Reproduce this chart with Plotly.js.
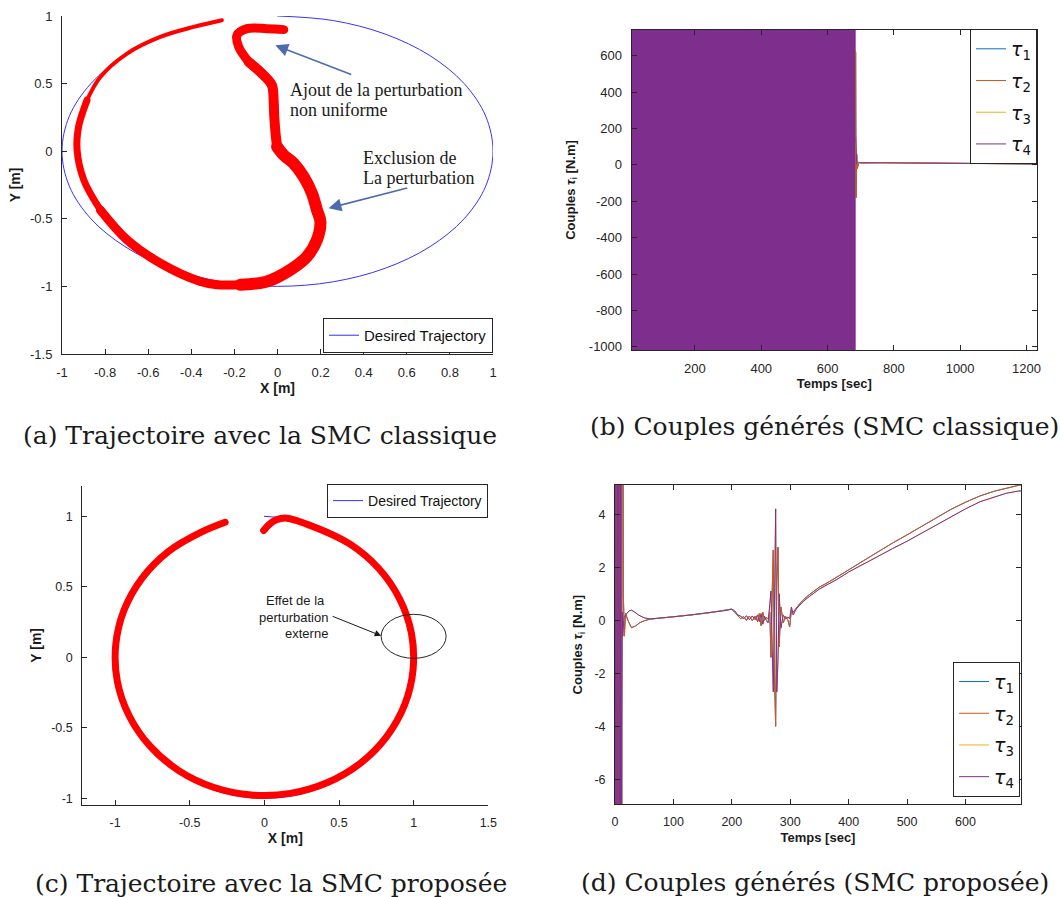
<!DOCTYPE html>
<html><head><meta charset="utf-8">
<script src="https://cdn.plot.ly/plotly-3.0.1.min.js"></script>
<style>html,body{margin:0;padding:0;background:#fff}#chart{width:1060px;height:897px}
.scatterlayer .js-line{stroke-linecap:round;stroke-linejoin:round}</style>
</head><body><div id="chart"></div>
<script>
// ---------- Panel (a): trajectory with classical SMC ----------
const desiredX = [0, 0.259, 0.5, 0.707, 0.866, 0.966, 1, 0.966, 0.866, 0.707, 0.5, 0.259, 0, -0.259, -0.5, -0.707, -0.866, -0.966, -1, -0.966, -0.866, -0.707, -0.5, -0.259];
const desiredY = [1, 0.966, 0.866, 0.707, 0.5, 0.259, 0, -0.259, -0.5, -0.707, -0.866, -0.966, -1, -0.966, -0.866, -0.707, -0.5, -0.259, 0, 0.259, 0.5, 0.707, 0.866, 0.966];
const smcAX = [0.029,-0.049,-0.142,-0.188,-0.180,-0.134,-0.064,-0.026,-0.018,-0.015,-0.009,-0.002,0.029,0.075,0.121,0.160,0.183,0.199,0.183,0.137,0.059,-0.049,-0.172,-0.281,-0.358,-0.544,-0.698,-0.822,-0.899,-0.930,-0.923,-0.884,-0.822,-0.698,-0.544,-0.389,-0.258];
const smcAY = [0.899,0.906,0.906,0.857,0.771,0.661,0.562,0.488,0.377,0.254,0.131,0.033,-0.029,-0.090,-0.189,-0.312,-0.435,-0.521,-0.656,-0.779,-0.878,-0.964,-0.988,-0.988,-0.964,-0.828,-0.656,-0.435,-0.213,0.008,0.181,0.377,0.549,0.722,0.845,0.919,0.968];
const xTicksA = [-1,-0.8,-0.6,-0.4,-0.2,0,0.2,0.4,0.6,0.8,1];
const xTickTextA = ['-1','-0.8','-0.6','-0.4','-0.2','0','0.2','0.4','0.6','0.8','1'];
const yTicksA = [-1.5,-1,-0.5,0,0.5,1];
const yTickTextA = ['-1.5','-1','-0.5','0','0.5','1'];

// ---------- Panel (b): torques, classical SMC ----------
const chatterTimeB = [9, 685];
const chatterHighB = [741, 741];
const chatterLowB = [-1017, -1017];
const tailTimeB = [685, 686, 688, 690, 693, 697, 705, 720, 760, 850, 1000, 1100, 1232];
const tau1TailB = [620, -180, 60, -20, 5, 12, 10, 11, 12, 11, 9, 7, 5];
const tau2TailB = [620, -180, 60, -20, 5, 12, 10, 11, 12, 11, 9, 7, 5];
const tau3TailB = [150, 40, 5, 10, 14, 12, 12, 13, 12, 10, 8, 6, 5];
const tau4TailB = [150, 40, 5, 10, 14, 12, 12, 13, 12, 10, 8, 6, 5];
const xTicksB = [200,400,600,800,1000,1200];
const yTicksB = [-1000,-800,-600,-400,-200,0,200,400,600];
const yTickTextB = ['-1000','-800','-600','-400','-200','0','200','400','600'];

// ---------- Panel (c): trajectory with proposed SMC ----------
const smcCX = [-0.005,0.03,0.08,0.15,0.342,0.574,0.766,0.906,0.985,0.996,0.940,0.819,0.643,0.423,0.174,-0.087,-0.342,-0.574,-0.766,-0.906,-0.985,-0.996,-0.940,-0.819,-0.643,-0.423,-0.263];
const smcCY = [0.9,0.94,0.975,0.987,0.921,0.803,0.630,0.414,0.170,-0.085,-0.335,-0.562,-0.751,-0.888,-0.965,-0.976,-0.921,-0.803,-0.630,-0.414,-0.170,0.085,0.335,0.562,0.751,0.888,0.958];
const xTicksC = [-1,-0.5,0,0.5,1,1.5];
const xTickTextC = ['-1','-0.5','0','0.5','1','1.5'];
const yTicksC = [-1,-0.5,0,0.5,1];
const yTickTextC = ['-1','-0.5','0','0.5','1'];

// ---------- Panel (d): torques, proposed SMC ----------
const tD2 = [0,0.6,1.2,1.8,2.4,3,3.6,4.2,4.8,5.4,6,6.6,7.2,7.8,8.4,9,9.6,10.2,10.8,11.4,
  12.2,14.2,16,18,22,28,35,42,50,60,80,100,130,160,190,200,
  205,210,215,220,225,230,235,240,244,247,250,253,256,259,262,265,
  267,269,271,273,275,277,279,281,284,288,292,296,299,302,305,310,
  320,330,340,350,365,380,400,425,450,475,500,525,550,575,600,625,650,670,690,695];
const tau2D = [30,-30,30,-30,30,-30,30,-30,30,-30,30,-30,30,-30,30,-30,30,-30,30,-30,
  30,1.05,-0.6,0.25,0.0,-0.28,-0.22,-0.1,-0.02,0.04,0.08,0.13,0.2,0.28,0.37,0.42,
  0.3,0.18,0.06,0.14,-0.01,0.16,-0.02,0.16,-0.05,0.25,-0.2,0.3,0.0,0.1,0.05,0.3,
  -1.4,1.0,2.65,-2.0,-4.0,1.5,2.75,-1.0,0.5,-0.1,0.15,0.0,-0.25,0.4,0.3,0.45,
  0.72,0.92,1.1,1.25,1.43,1.62,1.9,2.24,2.59,2.91,3.22,3.55,3.87,4.18,4.45,4.69,4.87,4.99,5.09,5.11];
const tD4 = [0,0.6,1.2,1.8,2.4,3,3.6,4.2,4.8,5.4,6,6.6,7.2,7.8,8.4,9,9.6,10.2,10.8,
  11.4,12.4,13.2,15.4,17,20,24,28,33,40,50,60,80,100,130,160,190,200,
  205,210,215,220,225,230,235,240,244,247,250,253,256,259,262,265,
  267,269,271,273,275,277,279,281,284,288,292,296,299,302,305,310,
  320,330,340,350,365,380,400,425,450,475,500,525,550,575,600,625,650,670,690,695];
const tau4D = [-30,30,-30,30,-30,30,-30,30,-30,30,-30,30,-30,30,-30,30,-30,30,-30,
  -4.45,0.3,-0.6,0.15,0.15,0.25,0.35,0.38,0.32,0.2,0.09,0.05,0.08,0.13,0.2,0.28,0.37,0.42,
  0.35,0.2,0.16,0.05,0.17,0.02,0.16,0.02,0.2,-0.05,0.25,-0.15,0.15,0.0,-0.1,0.6,
  1.1,-1.0,-2.7,0.5,4.2,-2.7,-1.5,1.0,-0.3,0.2,0.05,0.12,0.05,0.5,0.2,0.42,
  0.66,0.85,1.03,1.18,1.36,1.54,1.82,2.12,2.42,2.7,2.98,3.29,3.6,3.92,4.2,4.47,4.66,4.79,4.87,4.88];
// tau1 coincides with tau2 and tau3 with tau4 (hidden underneath)
const tau1D = tau2D.slice();
const tau3D = tau4D.slice();
const xTicksD = [0,100,200,300,400,500,600];
const yTicksD = [-6,-4,-2,0,2,4];
const yTickTextD = ['-6','-4','-2','0','2','4'];

const tauNames = ['<i>τ</i><sub>1</sub>','<i>τ</i><sub>2</sub>','<i>τ</i><sub>3</sub>','<i>τ</i><sub>4</sub>'];
const tauColors = ['#0072BD','#D95319','#EDB120','#7E2F8E'];

// ---------- traces ----------
const traces = [];
traces.push({x: desiredX, y: desiredY, xaxis:'x', yaxis:'y', type:'scatter', mode:'lines', name:'Desired Trajectory',
  line:{color:'#3333ff', width:1, shape:'spline'}, legend:'legend'});
const segA = [[0,5,9],[5,11,10],[11,22,12],[22,27,9],[27,31,7],[31,36,4]];
segA.forEach(s => traces.push({x: smcAX.slice(s[0], s[1]+1), y: smcAY.slice(s[0], s[1]+1), xaxis:'x', yaxis:'y',
  type:'scatter', mode:'lines', showlegend:false, line:{color:'#ff0000', width:s[2], shape:'spline'}}));

traces.push({x: chatterTimeB, y: chatterLowB, xaxis:'x2', yaxis:'y2', type:'scatter', mode:'lines', showlegend:false,
  line:{color:'#7E2F8E', width:0}, hoverinfo:'skip'});
traces.push({x: chatterTimeB, y: chatterHighB, xaxis:'x2', yaxis:'y2', type:'scatter', mode:'lines', showlegend:false,
  line:{color:'#7E2F8E', width:0}, fill:'tonexty', fillcolor:'#7E2F8E'});
[tau1TailB, tau2TailB, tau3TailB, tau4TailB].forEach((v,i) => traces.push({x: tailTimeB, y: v, xaxis:'x2', yaxis:'y2',
  type:'scatter', mode:'lines', name: tauNames[i], legend:'legend2', legendgroup:'b'+i, line:{color: tauColors[i], width:1}}));

traces.push({x: desiredX, y: desiredY, xaxis:'x3', yaxis:'y3', type:'scatter', mode:'lines', name:'Desired Trajectory',
  line:{color:'#3333ff', width:1, shape:'spline'}, legend:'legend3'});
traces.push({x: smcCX, y: smcCY, xaxis:'x3', yaxis:'y3', type:'scatter', mode:'lines', showlegend:false,
  line:{color:'#ff0000', width:7, shape:'spline'}});

[[tD2,tau1D],[tD2,tau2D],[tD4,tau3D],[tD4,tau4D]].forEach((p,i) => traces.push({x: p[0], y: p[1], xaxis:'x4', yaxis:'y4',
  type:'scatter', mode:'lines', name: tauNames[i], legend:'legend4', legendgroup:'d'+i, line:{color: tauColors[i], width:1}}));

// ---------- layout ----------
const tickFont = {family:'Liberation Sans, Arial, sans-serif', size:13, color:'#262626'};
const titleFont = {family:'Liberation Sans, Arial, sans-serif', size:14, color:'#1a1a1a'};
function ax(o){ return Object.assign({showline:true, linecolor:'#262626', linewidth:1, ticks:'inside', ticklen:5,
  tickcolor:'#262626', showgrid:false, zeroline:false, tickfont:tickFont, tickmode:'array', ticklabelstandoff:6,
  fixedrange:true}, o); }
const tauLegendFont = {family:'DejaVu Sans, sans-serif', size:19, color:'#111'};

const layout = {
  width:1060, height:897, margin:{l:0,r:0,t:0,b:0}, paper_bgcolor:'#ffffff', plot_bgcolor:'rgba(0,0,0,0)',
  font:{family:'Liberation Sans, Arial, sans-serif', color:'#262626'},
  xaxis: ax({domain:[0.0585,0.4651], range:[-1,1], anchor:'y', tickvals:xTicksA, ticktext:xTickTextA,
    title:{text:'<b>X [m]</b>', font:titleFont, standoff:4}}),
  yaxis: ax({domain:[0.6054,0.9822], range:[-1.5,1], anchor:'x', tickvals:yTicksA, ticktext:yTickTextA,
    title:{text:'<b>Y [m]</b>', font:titleFont, standoff:6}}),
  xaxis2: ax({domain:[0.5959,0.9783], range:[9,1232], anchor:'y2', mirror:'ticks', tickvals:xTicksB,
    title:{text:'<b>Temps [sec]</b>', font:Object.assign({}, titleFont, {size:13}), standoff:4}}),
  yaxis2: ax({domain:[0.6098,0.9666], range:[-1017,741], anchor:'x2', mirror:'ticks', tickvals:yTicksB, ticktext:yTickTextB,
    title:{text:'<b>Couples <i>τ</i><sub>i</sub> [N.m]</b>', font:Object.assign({}, titleFont, {size:13}), standoff:10}}),
  xaxis3: ax({domain:[0.0776,0.4607], range:[-1.22,1.5], anchor:'y3', tickvals:xTicksC, ticktext:xTickTextC,
    tickfont:Object.assign({}, tickFont, {size:12.5}),
    title:{text:'<b>X [m]</b>', font:titleFont, standoff:4}}),
  yaxis3: ax({domain:[0.1026,0.4585], range:[-1.047,1.217], anchor:'x3', tickvals:yTicksC, ticktext:yTickTextC,
    tickfont:Object.assign({}, tickFont, {size:12.5}),
    title:{text:'<b>Y [m]</b>', font:titleFont, standoff:6}}),
  xaxis4: ax({domain:[0.5802,0.9632], range:[0,695], anchor:'y4', mirror:'ticks', tickvals:xTicksD,
    tickfont:Object.assign({}, tickFont, {size:12.5}),
    title:{text:'<b>Temps [sec]</b>', font:Object.assign({}, titleFont, {size:13}), standoff:4}}),
  yaxis4: ax({domain:[0.1034,0.4593], range:[-6.94,5.1], anchor:'x4', mirror:'ticks', tickvals:yTicksD, ticktext:yTickTextD,
    tickfont:Object.assign({}, tickFont, {size:12.5}),
    title:{text:'<b>Couples <i>τ</i><sub>i</sub> [N.m]</b>', font:Object.assign({}, titleFont, {size:13}), standoff:8}}),
  legend: {x:0.4651, xanchor:'right', y:0.6065, yanchor:'bottom', bgcolor:'#fff', bordercolor:'#262626', borderwidth:1,
    font:{family:'Liberation Sans, Arial, sans-serif', size:15, color:'#111'}, itemwidth:30},
  legend2: {x:0.9783, xanchor:'right', y:0.9677, yanchor:'top', bgcolor:'#fff', bordercolor:'#262626', borderwidth:1,
    font:tauLegendFont, itemwidth:30, tracegroupgap:4},
  legend3: {x:0.4604, xanchor:'right', y:0.4604, yanchor:'top', bgcolor:'#fff', bordercolor:'#262626', borderwidth:1,
    font:{family:'Liberation Sans, Arial, sans-serif', size:14, color:'#111'}, itemwidth:30},
  legend4: {x:0.9623, xanchor:'right', y:0.1118, yanchor:'bottom', bgcolor:'#fff', bordercolor:'#262626', borderwidth:1,
    font:tauLegendFont, itemwidth:30, tracegroupgap:4},
  shapes: [
    {type:'circle', xref:'x3', yref:'y3', x0:0.782, x1:1.217, y0:-0.007, y1:0.305, line:{color:'#262626', width:1}}
  ],
  annotations: [
    // panel (a) arrows and notes
    {xref:'x', yref:'y', x:-0.01, y:0.783, axref:'x', ayref:'y', ax:0.349, ay:0.562, text:'', showarrow:true,
      arrowhead:2, arrowsize:1.6, arrowwidth:1.6, arrowcolor:'#4d6cae'},
    {xref:'x', yref:'y', x:0.237, y:-0.422, axref:'x', ayref:'y', ax:0.609, ay:-0.270, text:'', showarrow:true,
      arrowhead:2, arrowsize:1.6, arrowwidth:1.6, arrowcolor:'#4d6cae'},
    {xref:'x', yref:'y', x:0.050, y:0.451, xanchor:'left', yanchor:'middle', text:'Ajout de la perturbation', showarrow:false,
      font:{family:'Liberation Serif, serif', size:18, color:'#1a1a1a'}},
    {xref:'x', yref:'y', x:0.050, y:0.307, xanchor:'left', yanchor:'middle', text:'non uniforme', showarrow:false,
      font:{family:'Liberation Serif, serif', size:18, color:'#1a1a1a'}},
    {xref:'x', yref:'y', x:0.386, y:-0.047, xanchor:'left', yanchor:'middle', text:'Exclusion de', showarrow:false,
      font:{family:'Liberation Serif, serif', size:18, color:'#1a1a1a'}},
    {xref:'x', yref:'y', x:0.386, y:-0.197, xanchor:'left', yanchor:'middle', text:'La perturbation', showarrow:false,
      font:{family:'Liberation Serif, serif', size:18, color:'#1a1a1a'}},
    // panel (c) note
    {xref:'x3', yref:'y3', x:0.782, y:0.153, axref:'x3', ayref:'y3', ax:0.447, ay:0.295, text:'', showarrow:true,
      arrowhead:2, arrowsize:1.3, arrowwidth:1, arrowcolor:'#1a1a1a'},
    {xref:'x3', yref:'y3', x:0.42, y:0.406, xanchor:'right', yanchor:'middle', text:'Effet de la', showarrow:false,
      font:{family:'Liberation Sans, Arial, sans-serif', size:13, color:'#1a1a1a'}},
    {xref:'x3', yref:'y3', x:0.44, y:0.286, xanchor:'right', yanchor:'middle', text:'perturbation', showarrow:false,
      font:{family:'Liberation Sans, Arial, sans-serif', size:13, color:'#1a1a1a'}},
    {xref:'x3', yref:'y3', x:0.44, y:0.172, xanchor:'right', yanchor:'middle', text:'externe', showarrow:false,
      font:{family:'Liberation Sans, Arial, sans-serif', size:13, color:'#1a1a1a'}},
    // captions
    {xref:'paper', yref:'paper', x:0.2450, y:0.515, xanchor:'center', yanchor:'middle', showarrow:false,
      text:'(a) Trajectoire avec la SMC classique', font:{family:'DejaVu Serif, serif', size:25, color:'#1a1a1a'}},
    {xref:'paper', yref:'paper', x:0.7783, y:0.525, xanchor:'center', yanchor:'middle', showarrow:false,
      text:'(b) Couples générés (SMC classique)', font:{family:'DejaVu Serif, serif', size:25, color:'#1a1a1a'}},
    {xref:'paper', yref:'paper', x:0.2560, y:0.0156, xanchor:'center', yanchor:'middle', showarrow:false,
      text:'(c) Trajectoire avec la SMC proposée', font:{family:'DejaVu Serif, serif', size:25, color:'#1a1a1a'}},
    {xref:'paper', yref:'paper', x:0.7689, y:0.0167, xanchor:'center', yanchor:'middle', showarrow:false,
      text:'(d) Couples générés (SMC proposée)', font:{family:'DejaVu Serif, serif', size:25, color:'#1a1a1a'}}
  ]
};

Plotly.newPlot('chart', traces, layout, {staticPlot:true, displayModeBar:false});
</script></body></html>
